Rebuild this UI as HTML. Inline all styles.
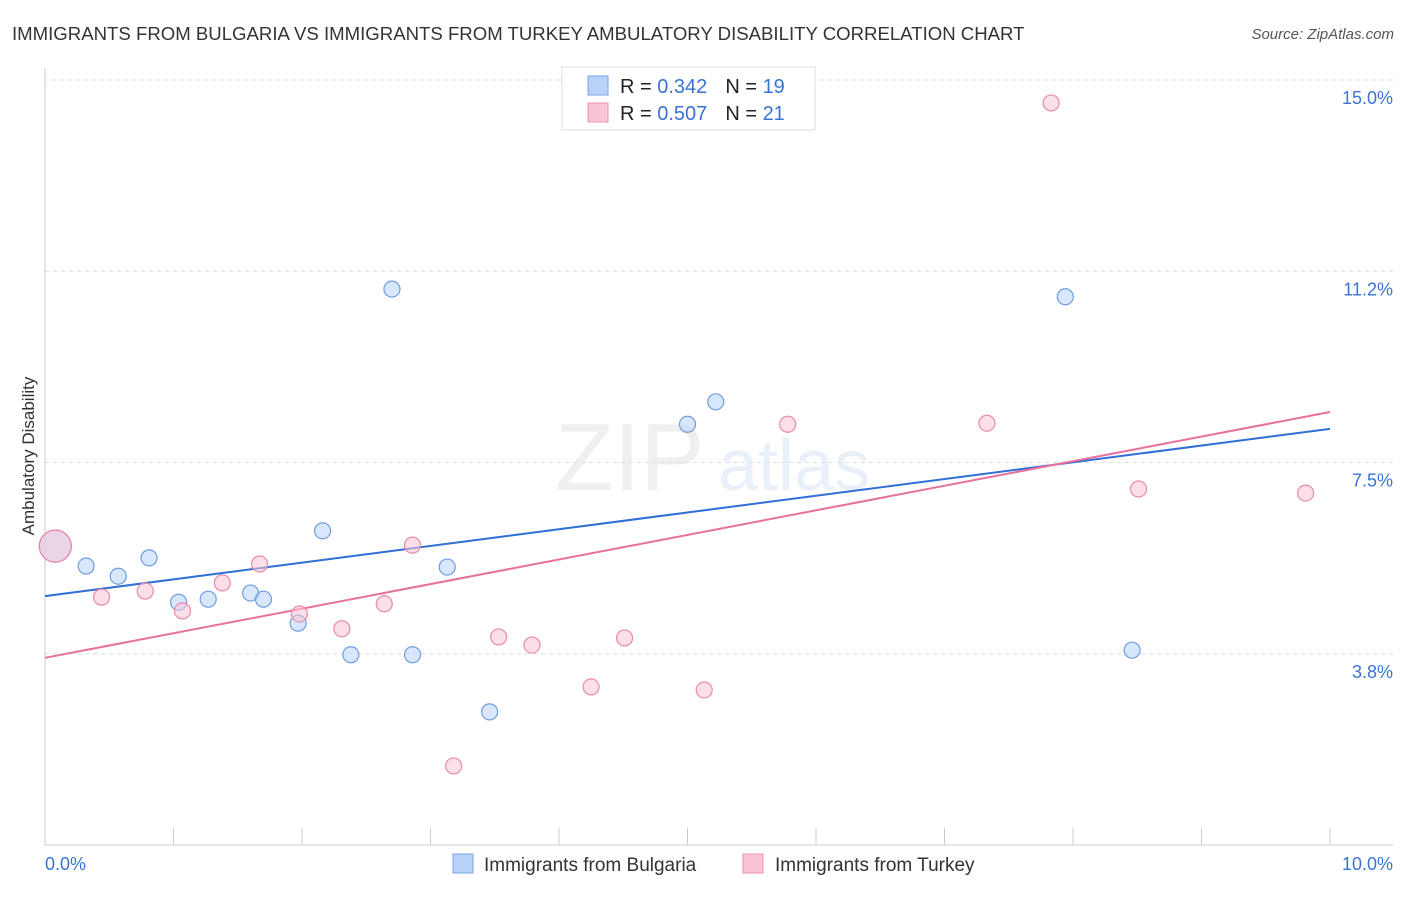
<!DOCTYPE html>
<html><head><meta charset="utf-8"><style>
body{margin:0;background:#fff;font-family:"Liberation Sans",sans-serif}
svg text{font-family:"Liberation Sans",sans-serif}
</style></head><body>
<svg id="chart" width="1406" height="892" xmlns="http://www.w3.org/2000/svg">
<text x="12" y="40" font-size="18.6" fill="#333">IMMIGRANTS FROM BULGARIA VS IMMIGRANTS FROM TURKEY AMBULATORY DISABILITY CORRELATION CHART</text>
<text x="1394" y="39" font-size="15" fill="#555" text-anchor="end" font-style="italic">Source: ZipAtlas.com</text>
<g opacity="0.15">
<text x="555" y="490" font-size="96" fill="#999" font-family="Liberation Serif">ZIP</text>
<text x="718" y="490" font-size="72" fill="#7a9de0">atlas</text>
</g>
<g id="grid"></g>
<g id="axes"></g>
<g id="trends"></g>
<g id="points"></g>
<text transform="translate(34,456) rotate(-90)" font-size="17" fill="#333" text-anchor="middle">Ambulatory Disability</text>
<g>
<rect x="562" y="67" width="253" height="63" fill="#fff" stroke="#ddd"/>
<rect x="588" y="76" width="20" height="19" fill="#b8d3f7" stroke="#7aa6e6"/>
<rect x="588" y="103" width="20" height="19" fill="#f9c5d5" stroke="#ec93b0"/>
<text x="620" y="93" font-size="20" fill="#222">R = <tspan fill="#3a73d4">0.342</tspan><tspan dx="18">N = </tspan><tspan fill="#3a73d4">19</tspan></text>
<text x="620" y="120" font-size="20" fill="#222">R = <tspan fill="#3a73d4">0.507</tspan><tspan dx="18">N = </tspan><tspan fill="#3a73d4">21</tspan></text>
</g>
<g>
<rect x="453" y="854" width="20" height="19" fill="#b8d3f7" stroke="#7aa6e6"/>
<text x="484" y="871" font-size="19" fill="#333">Immigrants from Bulgaria</text>
<rect x="743" y="854" width="20" height="19" fill="#f9c5d5" stroke="#ec93b0"/>
<text x="775" y="871" font-size="19" fill="#333">Immigrants from Turkey</text>
</g>
</svg>
<script>
const blueX=[0.08,0.32,0.57,0.81,1.04,1.27,1.60,1.70,1.97,2.16,2.38,2.70,2.86,3.13,3.46,5.00,5.22,7.94,8.46];
const blueY=[5.86,5.47,5.27,5.63,4.76,4.82,4.94,4.82,4.35,6.16,3.73,10.90,3.73,5.45,2.61,8.25,8.69,10.75,3.82];
const pinkX=[0.08,0.44,0.78,1.07,1.38,1.67,1.98,2.31,2.64,2.86,3.18,3.53,3.79,4.25,4.51,5.13,5.78,7.33,7.83,8.51,9.81];
const pinkY=[5.86,4.86,4.98,4.59,5.14,5.51,4.53,4.24,4.73,5.88,1.55,4.08,3.92,3.10,4.06,3.04,8.25,8.27,14.55,6.98,6.90];
const blueTrend=[4.88,8.16];
const pinkTrend=[3.67,8.49];
const yTicks=[3.75,7.5,11.25,15];
const yTickLabels=["3.8%","7.5%","11.2%","15.0%"];
const xTickLabels=["0.0%","10.0%"];
const NS="http://www.w3.org/2000/svg";
const sx=v=>45+v*128.5, sy=v=>845-v*51;
function mk(tag,attrs,parent){const e=document.createElementNS(NS,tag);for(const k in attrs)e.setAttribute(k,attrs[k]);document.getElementById(parent).appendChild(e);return e;}
yTicks.forEach((t,i)=>{
 const g=mk('line',{x1:45,x2:1393,y1:sy(t),y2:sy(t),stroke:'#ddd','stroke-dasharray':'4,4'},'grid');
 
 
 const tx=mk('text',{x:1393,y:sy(t)+24,'font-size':18,fill:'#3a73d4','text-anchor':'end'},'grid');
 tx.textContent=yTickLabels[i];
 
 
});
const ax=mk('line',{x1:45,x2:45,y1:68,y2:845,stroke:'#ccc'},'axes');


const bx=mk('line',{x1:45,x2:1393,y1:845,y2:845,stroke:'#ccc'},'axes');


for(let i=0;i<=10;i++){
 const t=mk('line',{x1:sx(i),x2:sx(i),y1:828,y2:845,stroke:'#ccc'},'axes');
 
 
}
[[0,45,'start'],[10,1393,'end']].forEach((a,i)=>{
 const t=mk('text',{x:a[1],y:870,'font-size':18,fill:'#3a73d4','text-anchor':a[2]},'axes');
 t.textContent=xTickLabels[i];
 
 
});
[[blueTrend,'#2f6fd6','blue-trend-line'],[pinkTrend,'#e8709a','pink-trend-line']].forEach(s=>{
 const l=mk('line',{x1:sx(0),x2:sx(10),y1:sy(s[0][0]),y2:sy(s[0][1]),stroke:s[1],'stroke-width':2},'trends');
 
 
});
function pts(X,Y,fill,stroke,name){
 X.forEach((x,i)=>{
  const r=i===0?16:8;
  const c=mk('circle',{cx:sx(x),cy:sy(Y[i]),r:r,fill:fill,'fill-opacity':0.55,stroke:stroke,'stroke-width':1.2},'points');
  
  
 });
}
pts(blueX,blueY,'#b8d3f7','#6f9de0','bulgaria-point');
pts(pinkX,pinkY,'#f9c5d5','#e98aab','turkey-point');
</script>
</body></html>
